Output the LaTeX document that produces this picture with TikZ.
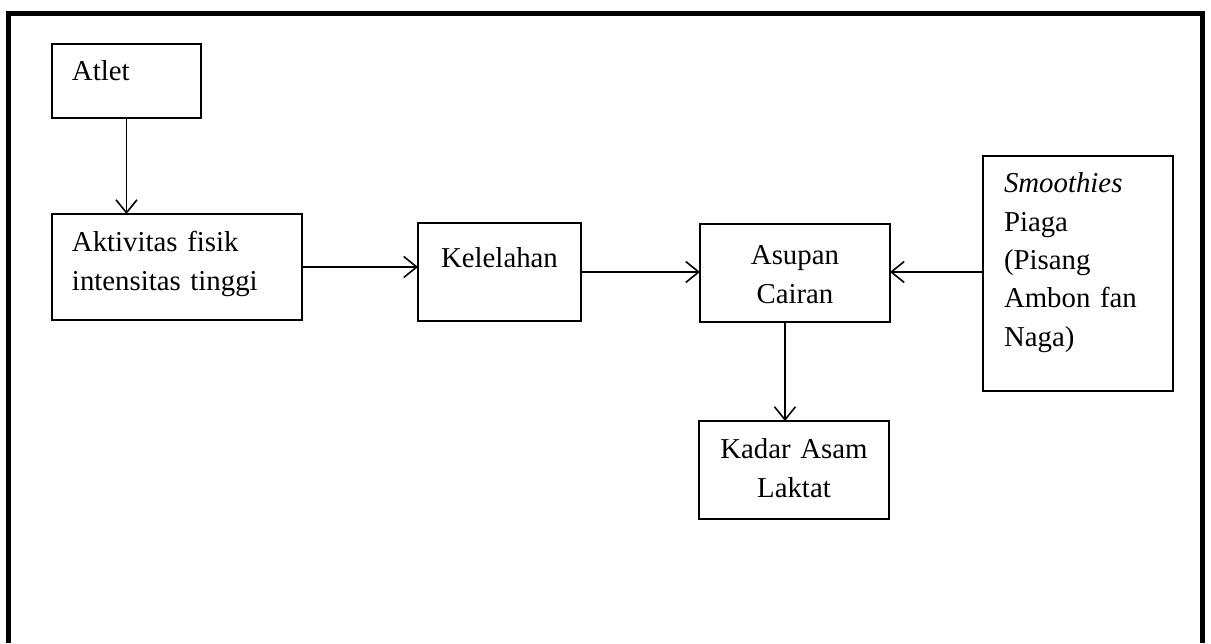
\documentclass[tikz,border=0pt]{standalone}
\usepackage{fontspec}
\setmainfont{Liberation Serif}
\usetikzlibrary{arrows.meta, positioning, calc}
\tikzset{
  kotak/.style={
    rectangle,
    draw=black,
    line width=0.9pt,
    anchor=north west,
    inner xsep=0.4cm,
    inner ysep=0pt,
    outer sep=0pt
  },
  panah/.style={
    line width=0.9pt,
    -{Straight Barb[length=0.26cm,width=0.42cm]}
  }
}

\begin{document}
\begin{tikzpicture}[x=0.02cm, y=-0.02cm, font=\fontsize{16.4pt}{21.8pt}\selectfont]
  \useasboundingbox (0,0) rectangle (1211,643);

  % bingkai luar
  \draw[line width=3pt] (8.5,643) -- (8.5,13.5) -- (1202.5,13.5) -- (1202.5,643);

  \node[kotak, text width=2.18cm, align=left, text height=0.74cm, text depth=0.74cm] (atlet) at (52,44) {Atlet};

  \node[kotak, text width=4.2cm, align=left, text height=0.76cm, text depth=1.36cm] (aktivitas) at (52,214) {Aktivitas fisik\\intensitas tinggi};

  \node[kotak, text width=2.46cm, align=center, text height=0.9cm, text depth=1.06cm] (kelelahan) at (418,223) {Kelelahan};

  \node[kotak, text width=3cm, align=center, text height=0.82cm, text depth=1.14cm] (asupan) at (700,224) {Asupan\\Cairan};

  \node[kotak, inner xsep=0.42cm, text width=2.96cm, align=left, text height=0.74cm, text depth=3.96cm] (smoothies) at (983,156) {\textit{Smoothies}\\Piaga\\(Pisang\\Ambon fan\\Naga)};

  \node[kotak, inner xsep=0.2cm, text width=3.4cm, align=center, text height=0.76cm, text depth=1.2cm] (kadar) at (699,421) {Kadar Asam\\Laktat};

  % panah
  \draw[panah] (atlet.south) -- (atlet.south |- aktivitas.north);
  \draw[panah] (aktivitas.east) -- (aktivitas.east -| kelelahan.west);
  \draw[panah] (kelelahan.east) -- (kelelahan.east -| asupan.west);
  \draw[panah] (smoothies.west |- kelelahan.east) -- (kelelahan.east -| asupan.east);
  \draw[panah] ([xshift=-0.2cm]asupan.south) -- ([xshift=-0.2cm]asupan.south |- kadar.north);
\end{tikzpicture}
\end{document}
